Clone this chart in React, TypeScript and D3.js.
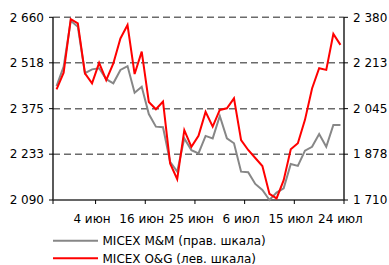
import * as d3 from "d3";
import { useEffect, useRef } from "react";

// MICEX O&G, left scale
const oilGas = [
  2435, 2487, 2654, 2641, 2485, 2454, 2518, 2464, 2516, 2594, 2636, 2483, 2553, 2396,
  2373, 2397, 2204, 2155, 2308, 2256, 2290, 2365, 2319, 2371, 2376, 2407, 2277, 2246,
  2221, 2196, 2109, 2095, 2152, 2248, 2267, 2340, 2438, 2501, 2496, 2608, 2574,
];
// MICEX M&M, right scale
const metals = [
  2128, 2199, 2367, 2345, 2175, 2189, 2193, 2153, 2138, 2187, 2201, 2103, 2125, 2025,
  1979, 1977, 1850, 1814, 1936, 1893, 1881, 1945, 1936, 2018, 1936, 1918, 1814, 1812,
  1769, 1747, 1710, 1737, 1753, 1842, 1835, 1891, 1905, 1952, 1905, 1985, 1985,
];
const leftTicks = [2090, 2233, 2375, 2518, 2660];
const rightTicks = [1710, 1878, 2045, 2213, 2380];
const dateLabels = ["4 июн", "16 июн", "25 июн", "6 июл", "15 июл", "24 июл"];
const dateIndex = [5, 12, 19, 26, 33, 40];
const tickBoundaries = [0, 6, 13, 20, 27, 34, 41];

const fmt = (v: number) => String(v).replace(/\B(?=(\d{3})+(?!\d))/g, " ");

export default function App() {
  const ref = useRef<SVGSVGElement>(null);

  useEffect(() => {
    const svg = d3.select(ref.current);
    svg.selectAll("*").remove();

    const m = { left: 53, right: 344, top: 17.3, bottom: 200 };
    const n = oilGas.length;
    const x = d3.scaleLinear().domain([0, n]).range([m.left, m.right]);
    const cx = (i: number) => x(i + 0.5);
    const yL = d3.scaleLinear().domain([2090, 2660]).range([m.bottom, m.top]);
    const yR = d3.scaleLinear().domain([1710, 2380]).range([m.bottom, m.top]);
    const font = "'DejaVu Sans', Verdana, sans-serif";

    // dashed grid
    svg.append("g")
      .selectAll("line")
      .data(leftTicks.slice(1))
      .join("line")
      .attr("x1", m.left)
      .attr("x2", m.right)
      .attr("y1", (d) => yL(d))
      .attr("y2", (d) => yL(d))
      .attr("stroke", "#6b6b6b")
      .attr("stroke-width", 1.5)
      .attr("stroke-dasharray", "7,4");

    // left axis
    const left = svg.append("g");
    left.append("line")
      .attr("x1", m.left).attr("x2", m.left)
      .attr("y1", m.top).attr("y2", m.bottom)
      .attr("stroke", "#000").attr("stroke-width", 1.3);
    leftTicks.forEach((t) => {
      left.append("line")
        .attr("x1", m.left - 4).attr("x2", m.left)
        .attr("y1", yL(t)).attr("y2", yL(t))
        .attr("stroke", "#000");
      left.append("text")
        .attr("x", 44).attr("y", yL(t))
        .attr("dy", "0.35em")
        .attr("text-anchor", "end")
        .attr("font-family", font).attr("font-size", 12)
        .attr("fill", "#000")
        .text(fmt(t));
    });

    // right axis
    const right = svg.append("g");
    right.append("line")
      .attr("x1", m.right).attr("x2", m.right)
      .attr("y1", m.top).attr("y2", m.bottom)
      .attr("stroke", "#000").attr("stroke-width", 1.3);
    rightTicks.forEach((t) => {
      right.append("line")
        .attr("x1", m.right).attr("x2", m.right + 4)
        .attr("y1", yR(t)).attr("y2", yR(t))
        .attr("stroke", "#000");
      right.append("text")
        .attr("x", 353).attr("y", yR(t))
        .attr("dy", "0.35em")
        .attr("font-family", font).attr("font-size", 12)
        .attr("fill", "#000")
        .text(fmt(t));
    });

    // bottom axis
    const bottom = svg.append("g");
    bottom.append("line")
      .attr("x1", m.left).attr("x2", m.right)
      .attr("y1", m.bottom).attr("y2", m.bottom)
      .attr("stroke", "#333").attr("stroke-width", 1.3);
    tickBoundaries.forEach((b) => {
      bottom.append("line")
        .attr("x1", x(b)).attr("x2", x(b))
        .attr("y1", m.bottom).attr("y2", m.bottom + 4)
        .attr("stroke", "#000");
    });
    dateIndex.forEach((idx, k) => {
      bottom.append("text")
        .attr("x", cx(idx)).attr("y", 223)
        .attr("text-anchor", "middle")
        .attr("font-family", font).attr("font-size", 12)
        .attr("fill", "#000")
        .text(dateLabels[k]);
    });

    // series
    const lineR = d3.line<number>().x((_, i) => cx(i)).y((d) => yR(d));
    const lineL = d3.line<number>().x((_, i) => cx(i)).y((d) => yL(d));
    svg.append("path")
      .attr("d", lineR(metals))
      .attr("fill", "none")
      .attr("stroke", "#878787")
      .attr("stroke-width", 2);
    svg.append("path")
      .attr("d", lineL(oilGas))
      .attr("fill", "none")
      .attr("stroke", "#ff0000")
      .attr("stroke-width", 2);

    // legend
    const legend = [
      { name: "MICEX M&M (прав. шкала)", color: "#878787", y: 240.7 },
      { name: "MICEX O&G (лев. шкала)", color: "#ff0000", y: 258.3 },
    ];
    legend.forEach((l) => {
      svg.append("line")
        .attr("x1", 53).attr("x2", 98)
        .attr("y1", l.y).attr("y2", l.y)
        .attr("stroke", l.color).attr("stroke-width", 2);
      svg.append("text")
        .attr("x", 102.5).attr("y", l.y)
        .attr("dy", "0.35em")
        .attr("font-family", font).attr("font-size", 12)
        .attr("fill", "#000")
        .text(l.name);
    });
  }, []);

  return (
    <svg
      ref={ref}
      width={389}
      height={265}
      style={{ position: "absolute", left: 0, top: 0, background: "#fff" }}
    />
  );
}
